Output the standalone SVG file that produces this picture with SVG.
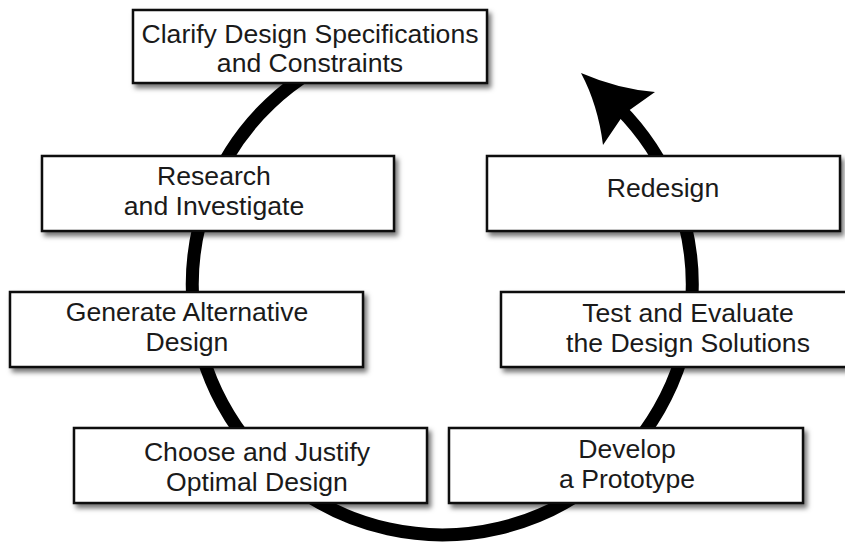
<svg xmlns="http://www.w3.org/2000/svg" width="845" height="544" viewBox="0 0 845 544">
<defs>
<filter id="sh" x="-10%" y="-20%" width="130%" height="150%">
<feDropShadow dx="3" dy="4" stdDeviation="2.5" flood-color="#000" flood-opacity="0.55"/>
</filter>
<style>
.box{fill:#fff;stroke:#111;stroke-width:2.5;filter:url(#sh)}
.t{font-family:"Liberation Sans",Arial,sans-serif;font-size:26.6px;fill:#1a1a1a;text-anchor:middle}
.loop{fill:none;stroke:#000;stroke-width:13}
</style>
</defs>
<rect width="845" height="544" fill="#fff"/>
<g id="connectors">
<path class="loop" d="M356.5,50 A250,250 0 1 0 619,108"/>
<path d="M581,73 Q618,89 655,92 L624,114 L603,145 Q598,105 581,73 Z" fill="#000"/>
</g>
<g id="n-clarify">
<rect class="box" x="133" y="10" width="354" height="73"/>
<text class="t" x="310" y="43">Clarify Design Specifications</text>
<text class="t" x="310" y="72">and Constraints</text>
</g>
<g id="n-research">
<rect class="box" x="42" y="156" width="352" height="75"/>
<text class="t" x="214" y="185">Research</text>
<text class="t" x="214" y="215">and Investigate</text>
</g>
<g id="n-generate">
<rect class="box" x="10" y="292" width="353" height="75"/>
<text class="t" x="187" y="321">Generate Alternative</text>
<text class="t" x="187" y="351">Design</text>
</g>
<g id="n-choose">
<rect class="box" x="74" y="428" width="353" height="75"/>
<text class="t" x="257" y="461">Choose and Justify</text>
<text class="t" x="257" y="491">Optimal Design</text>
</g>
<g id="n-develop">
<rect class="box" x="449" y="428" width="354" height="75"/>
<text class="t" x="627" y="458">Develop</text>
<text class="t" x="627" y="488">a Prototype</text>
</g>
<g id="n-test">
<rect class="box" x="501" y="292" width="360" height="75"/>
<text class="t" x="688" y="322">Test and Evaluate</text>
<text class="t" x="688" y="352">the Design Solutions</text>
</g>
<g id="n-redesign">
<rect class="box" x="487" y="156" width="353" height="75"/>
<text class="t" x="663" y="197">Redesign</text>
</g>
</svg>
